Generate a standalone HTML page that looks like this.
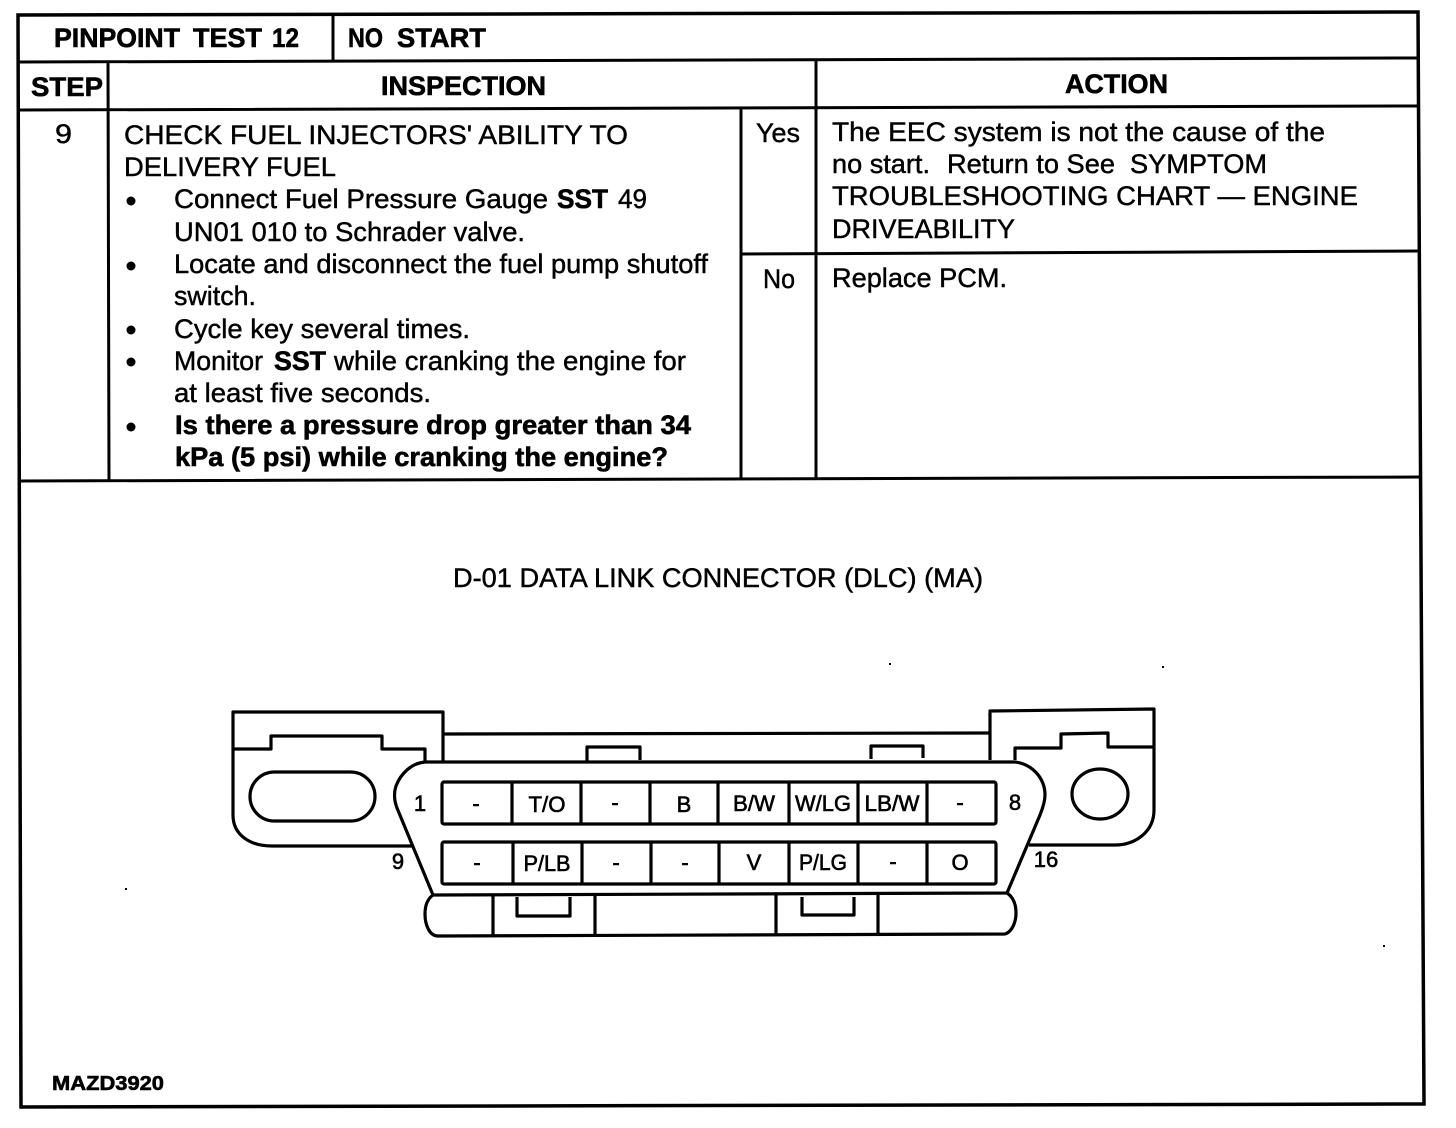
<!DOCTYPE html>
<html><head><meta charset="utf-8"><style>
html,body{margin:0;padding:0;background:#fff}
svg{display:block}
text{font-family:"Liberation Sans",Arial,sans-serif;fill:#000;stroke:#000;stroke-width:.45px}
.b{font-weight:bold;stroke-width:.6px}
.t{font-size:27px}
.h{font-size:27px;font-weight:bold;stroke-width:.6px}
.p{font-size:22px;text-anchor:middle;stroke-width:.6px}
.l{fill:none;stroke:#000;stroke-width:3}
.c{fill:none;stroke:#000;stroke-width:3.2;stroke-linejoin:round}
</style></head><body>
<svg width="1456" height="1128" viewBox="0 0 1456 1128" xmlns="http://www.w3.org/2000/svg">
<rect width="1456" height="1128" fill="#fff"/>
<path class="l" d="M18 15L1418 12L1424 1104L21 1107L18 15Z" style="stroke-width:3.5"/>
<path class="l" d="M18 62L1418 58M18 110L1418 106M18 481L1421 477M333 15V62M108 62L109 481M741 109V479M816 60V478M741 254L1419 251"/>
<g>
<text class="h" x="54" y="47" textLength="126" lengthAdjust="spacingAndGlyphs">PINPOINT</text>
<text class="h" x="193" y="47" textLength="69" lengthAdjust="spacingAndGlyphs">TEST</text>
<text class="h" x="272" y="47" textLength="27" lengthAdjust="spacingAndGlyphs">12</text>
<text class="h" x="348" y="47" textLength="35" lengthAdjust="spacingAndGlyphs">NO</text>
<text class="h" x="397" y="47" textLength="89" lengthAdjust="spacingAndGlyphs">START</text>
<text class="h" x="31" y="96" textLength="72" lengthAdjust="spacingAndGlyphs">STEP</text>
<text class="h" x="381" y="95" textLength="165" lengthAdjust="spacingAndGlyphs">INSPECTION</text>
<text class="h" x="1065" y="93" textLength="103" lengthAdjust="spacingAndGlyphs">ACTION</text>
<text class="t" x="55" y="143" textLength="17" lengthAdjust="spacingAndGlyphs">9</text>
<text class="t" x="124" y="144" textLength="504" lengthAdjust="spacingAndGlyphs">CHECK FUEL INJECTORS' ABILITY TO</text>
<text class="t" x="124" y="176" textLength="212" lengthAdjust="spacingAndGlyphs">DELIVERY FUEL</text>
<text class="t" x="174" y="208" textLength="374" lengthAdjust="spacingAndGlyphs">Connect Fuel Pressure Gauge</text>
<text class="t b" x="557" y="208" textLength="51" lengthAdjust="spacingAndGlyphs">SST</text>
<text class="t" x="618" y="208" textLength="29" lengthAdjust="spacingAndGlyphs">49</text>
<text class="t" x="174" y="241" textLength="351" lengthAdjust="spacingAndGlyphs">UN01 010 to Schrader valve.</text>
<text class="t" x="174" y="273" textLength="534" lengthAdjust="spacingAndGlyphs">Locate and disconnect the fuel pump shutoff</text>
<text class="t" x="174" y="305" textLength="82" lengthAdjust="spacingAndGlyphs">switch.</text>
<text class="t" x="174" y="338" textLength="296" lengthAdjust="spacingAndGlyphs">Cycle key several times.</text>
<text class="t" x="174" y="370" textLength="89" lengthAdjust="spacingAndGlyphs">Monitor</text>
<text class="t b" x="274" y="370" textLength="52" lengthAdjust="spacingAndGlyphs">SST</text>
<text class="t" x="334" y="370" textLength="352" lengthAdjust="spacingAndGlyphs">while cranking the engine for</text>
<text class="t" x="174" y="402" textLength="257" lengthAdjust="spacingAndGlyphs">at least five seconds.</text>
<text class="t b" x="175" y="434" textLength="516" lengthAdjust="spacingAndGlyphs">Is there a pressure drop greater than 34</text>
<text class="t b" x="175" y="466" textLength="493" lengthAdjust="spacingAndGlyphs">kPa (5 psi) while cranking the engine?</text>
<circle cx="131" cy="201" r="4.5"/><circle cx="131" cy="266" r="4.5"/><circle cx="131" cy="330" r="4.5"/><circle cx="131" cy="362" r="4.5"/><circle cx="131" cy="427" r="4.5"/>
<text class="t" x="756" y="142" textLength="44" lengthAdjust="spacingAndGlyphs">Yes</text>
<text class="t" x="763" y="288" textLength="32" lengthAdjust="spacingAndGlyphs">No</text>
<text class="t" x="832" y="141" textLength="493" lengthAdjust="spacingAndGlyphs">The EEC system is not the cause of the</text>
<text class="t" x="832" y="173" textLength="98" lengthAdjust="spacingAndGlyphs">no start.</text>
<text class="t" x="947" y="173" textLength="168" lengthAdjust="spacingAndGlyphs">Return to See</text>
<text class="t" x="1130" y="173" textLength="137" lengthAdjust="spacingAndGlyphs">SYMPTOM</text>
<text class="t" x="832" y="205" textLength="526" lengthAdjust="spacingAndGlyphs">TROUBLESHOOTING CHART — ENGINE</text>
<text class="t" x="832" y="238" textLength="183" lengthAdjust="spacingAndGlyphs">DRIVEABILITY</text>
<text class="t" x="832" y="287" textLength="175" lengthAdjust="spacingAndGlyphs">Replace PCM.</text>
<text class="t" x="453" y="587" textLength="530" lengthAdjust="spacingAndGlyphs">D-01 DATA LINK CONNECTOR (DLC) (MA)</text>
<text class="b" style="font-size:20px" x="52" y="1090" textLength="112" lengthAdjust="spacingAndGlyphs">MAZD3920</text>
</g>
<!-- connector -->
<path class="c" d="M443 762V712H233V815C233 835 250 846 272 846H412"/>
<path class="c" d="M233 749H271V736H382V749H425V762"/>
<rect class="c" x="250" y="772" width="125" height="49" rx="24.5"/>
<path class="c" d="M443 734L990 733M587 761V747H640V760M871 759V746H923V758"/>
<path class="c" d="M990 760V711L1154 709V810C1154 832 1135 845 1115 845H1029"/>
<path class="c" d="M1015 760V748H1061V734L1108 733V747H1154"/>
<ellipse class="c" cx="1100" cy="794" rx="28" ry="25"/>
<path class="c" d="M425 762H1015C1032 764 1045 778 1045 795C1045 802 1042 810 1040 815L1007 893L433 895L397 808C394 800 394 792 396 786C401 773 412 763 425 762Z"/>
<path class="c" d="M433 895C426 900 425 908 425 914C425 924 429 936 438 936L1005 934C1012 932 1016 922 1016 913C1016 904 1013 897 1007 893"/>
<path class="c" d="M493 896V936M595 896V936M776 895V935M878 895V935M517 897V916H570V897M802 897V915H854V897"/>
<rect class="c" x="442" y="782" width="554" height="42" rx="2"/>
<rect class="c" x="442" y="842" width="554" height="42" rx="2"/>
<path class="c" d="M512 782V824M581 782V824M650 782V824M718 782V824M789 782V824M858 782V824M927 782V824"/>
<path class="c" d="M513 842V884M582 842V884M651 842V884M719 842V884M789 842V884M858 842V884M927 842V884"/>
<g>
<text class="p" x="476" y="811">-</text>
<text class="p" x="547" y="812" textLength="37" lengthAdjust="spacingAndGlyphs">T/O</text>
<text class="p" x="615" y="810">-</text>
<text class="p" x="684" y="812">B</text>
<text class="p" x="754" y="811" textLength="42" lengthAdjust="spacingAndGlyphs">B/W</text>
<text class="p" x="823" y="811" textLength="56" lengthAdjust="spacingAndGlyphs">W/LG</text>
<text class="p" x="892" y="811" textLength="55" lengthAdjust="spacingAndGlyphs">LB/W</text>
<text class="p" x="960" y="810">-</text>
<text class="p" x="477" y="870">-</text>
<text class="p" x="547" y="871" textLength="47" lengthAdjust="spacingAndGlyphs">P/LB</text>
<text class="p" x="616" y="870">-</text>
<text class="p" x="685" y="870">-</text>
<text class="p" x="754" y="870">V</text>
<text class="p" x="823" y="870" textLength="48" lengthAdjust="spacingAndGlyphs">P/LG</text>
<text class="p" x="893" y="869">-</text>
<text class="p" x="960" y="870">O</text>
<text class="p" x="420" y="811">1</text>
<text class="p" x="1015" y="810">8</text>
<text class="p" x="398" y="869">9</text>
<text class="p" x="1046" y="867">16</text>
</g>
<g fill="#000"><rect x="889" y="663" width="2" height="2"/><rect x="1162" y="666" width="2" height="2"/><rect x="125" y="888" width="2" height="2"/><rect x="1383" y="945" width="2" height="2"/></g>
</svg>
</body></html>
